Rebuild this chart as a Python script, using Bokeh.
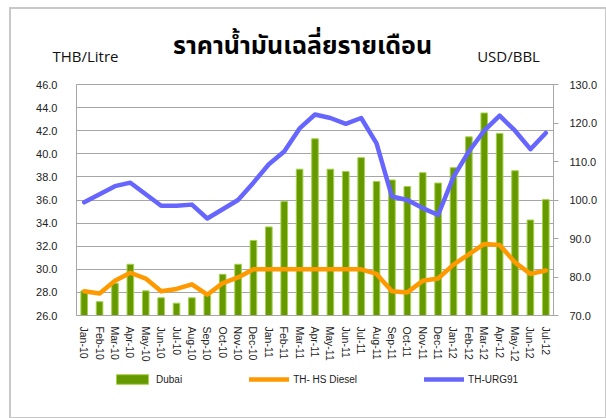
from bokeh.plotting import figure
from bokeh.layouts import column
from bokeh.models import (Range1d, LinearAxis, Legend, LegendItem,
                          SingleIntervalTicker, NumeralTickFormatter, FixedTicker)
from bokeh.embed import file_html
from bokeh.resources import INLINE

months = ["Jan-10", "Feb-10", "Mar-10", "Apr-10", "May-10", "Jun-10", "Jul-10", "Aug-10",
          "Sep-10", "Oct-10", "Nov-10", "Dec-10", "Jan-11", "Feb-11", "Mar-11", "Apr-11",
          "May-11", "Jun-11", "Jul-11", "Aug-11", "Sep-11", "Oct-11", "Nov-11", "Dec-11",
          "Jan-12", "Feb-12", "Mar-12", "Apr-12", "May-12", "Jun-12", "Jul-12"]

dubai = [76.4, 73.6, 78.4, 83.3, 76.4, 74.6, 73.2, 74.6, 75.2, 80.7, 83.3, 89.5, 93.0, 99.6,
         108.0, 115.9, 108.0, 107.4, 111.0, 104.8, 105.2, 103.5, 107.1, 104.4, 108.4, 116.4,
         122.6, 117.3, 107.6, 94.8, 100.1]

hs_diesel = [28.1, 27.9, 29.0, 29.7, 29.2, 28.1, 28.3, 28.7, 27.8, 28.8, 29.3, 30.0, 30.0, 30.0,
             30.0, 30.0, 30.0, 30.0, 30.0, 29.6, 28.1, 28.0, 29.0, 29.2, 30.4, 31.3, 32.2, 32.1,
             30.6, 29.6, 29.9]

urg91 = [35.8, 36.5, 37.2, 37.5, 36.5, 35.5, 35.5, 35.6, 34.4, 35.2, 36.0, 37.5, 39.1, 40.2,
         42.2, 43.4, 43.1, 42.6, 43.1, 40.9, 36.3, 36.0, 35.3, 34.7, 38.0, 40.2, 42.0, 43.3,
         42.0, 40.4, 41.8]

series_names = ["Dubai", "TH- HS Diesel", "TH-URG91"]
title_text = "ราคาน้ำมันเฉลี่ยรายเดือน"
unit_labels = ["THB/Litre", "USD/BBL"]

GRID = "#a6a6a6"
TICK_FONT = "Liberation Sans"
BAR_FILL, BAR_LINE = "#669900", "#a4d34a"
ORANGE, BLUE = "#ff9900", "#6666ff"

n = len(months)
xpos = [i + 0.5 for i in range(n)]  # category centres on the numeric x scale

p = figure(width=594, height=355, x_range=Range1d(0, n), y_range=Range1d(26, 46),
           output_backend="svg", toolbar_location=None,
           min_border_left=65, min_border_right=52, min_border_top=75, min_border_bottom=47)
p.extra_y_ranges = {"usd": Range1d(70, 130)}
p.outline_line_color = GRID
p.background_fill_color = "white"
p.border_fill_color = "white"

# bars (Dubai, right axis)
p.vbar(x=xpos, top=dubai, bottom=70, width=0.43, y_range_name="usd",
       fill_color=BAR_FILL, line_color=BAR_LINE, line_width=1)
p.line(x=xpos, y=hs_diesel, line_color=ORANGE, line_width=4.5,
       line_join="round", line_cap="round")
p.line(x=xpos, y=urg91, line_color=BLUE, line_width=4.5,
       line_join="round", line_cap="round")

# left axis
ya = p.yaxis[0]
ya.ticker = SingleIntervalTicker(interval=2)
ya.formatter = NumeralTickFormatter(format="0.0")
ya.major_tick_line_color = None
ya.minor_tick_line_color = None
ya.axis_line_color = GRID
ya.major_label_standoff = 13
ya.major_label_text_font = TICK_FONT
ya.major_label_text_font_size = "11px"
ya.major_label_text_color = "#222222"

# right axis
ra = LinearAxis(y_range_name="usd", ticker=SingleIntervalTicker(interval=10),
                formatter=NumeralTickFormatter(format="0.0"))
ra.major_tick_line_color = GRID
ra.major_tick_out = 5
ra.major_tick_in = 0
ra.minor_tick_line_color = None
ra.axis_line_color = GRID
ra.major_label_standoff = 11
ra.major_label_text_font = TICK_FONT
ra.major_label_text_font_size = "11px"
ra.major_label_text_color = "#222222"
ra.major_label_text_align = "left"
p.add_layout(ra, "right")

# x axis with month labels
xa = p.xaxis[0]
xa.ticker = FixedTicker(ticks=xpos)
xa.major_label_overrides = {x: m for x, m in zip(xpos, months)}
xa.major_label_orientation = "vertical"
xa.major_tick_line_color = None
xa.minor_tick_line_color = None
xa.axis_line_color = GRID
xa.major_label_standoff = 5
xa.major_label_text_font = TICK_FONT
xa.major_label_text_font_size = "10.5px"
xa.major_label_text_color = "#222222"

p.xgrid.grid_line_color = None
p.ygrid.grid_line_color = GRID
p.ygrid.ticker = SingleIntervalTicker(interval=2)

# header: unit labels (inner row) and title (outer row) as label-only axes
unit_pos = [0.58, 28.08]
ua = LinearAxis(ticker=FixedTicker(ticks=unit_pos),
                major_label_overrides={unit_pos[0]: unit_labels[0], unit_pos[1]: unit_labels[1]})
ua.axis_line_color = None
ua.major_tick_line_color = None
ua.minor_tick_line_color = None
ua.major_label_standoff = 13
ua.major_label_text_font = "Open Sans"
ua.major_label_text_font_size = "15px"
ua.major_label_text_color = "#111111"
p.add_layout(ua, "above")

title_pos = [14.69]
ta = LinearAxis(ticker=FixedTicker(ticks=title_pos),
                major_label_overrides={title_pos[0]: title_text})
ta.axis_line_color = None
ta.major_tick_line_color = None
ta.minor_tick_line_color = None
ta.major_label_standoff = -28
ta.major_label_text_font = "Noto Sans Thai, Noto Sans, sans-serif"
ta.major_label_text_font_style = "bold"
ta.major_label_text_font_size = "25px"
ta.major_label_text_color = "#000000"
p.add_layout(ta, "above")

# legend row: a small axis-free figure directly below the chart
lg = figure(width=594, height=53, x_range=Range1d(0, 1), y_range=Range1d(0, 1),
            x_axis_type=None, y_axis_type=None, output_backend="svg", toolbar_location=None,
            min_border=0)
lg.outline_line_color = None
lg.background_fill_color = "white"
lg.border_fill_color = "white"
lg.xgrid.visible = False
lg.ygrid.visible = False
# legend proxies, kept outside the visible range of this row
r_bar = lg.vbar(x=[-10], top=[-10], bottom=-11, width=0.43,
                fill_color=BAR_FILL, line_color=BAR_LINE, line_width=1)
r_dsl = lg.line(x=[-10, -9], y=[-10, -10], line_color=ORANGE, line_width=4.5, line_cap="round")
r_urg = lg.line(x=[-10, -9], y=[-10, -10], line_color=BLUE, line_width=4.5, line_cap="round")

legend = Legend(items=[LegendItem(label=series_names[0], renderers=[r_bar]),
                       LegendItem(label=series_names[1], renderers=[r_dsl]),
                       LegendItem(label=series_names[2], renderers=[r_urg])],
                location=(36, 32), orientation="horizontal", padding=0, margin=0,
                spacing=67, border_line_color=None, background_fill_alpha=0,
                glyph_width=40, glyph_height=12, label_height=12, label_standoff=4,
                label_text_font=TICK_FONT, label_text_font_size="10px",
                label_text_color="#222222")
lg.add_layout(legend)

layout = column(p, lg, spacing=0,
                styles={"margin-left": "11px", "margin-top": "9px", "outline": "2px solid #c8c8c8"})

open("out.html", "w").write(file_html(layout, INLINE))
